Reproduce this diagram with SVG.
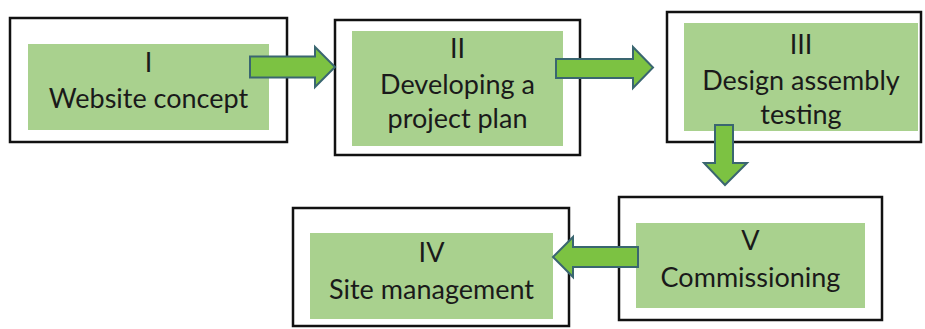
<svg xmlns="http://www.w3.org/2000/svg" width="925" height="329" viewBox="0 0 925 329">
<style>
.outer{fill:#ffffff;stroke:#111111;stroke-width:2.5}
.inner{fill:#a9d18e}
.t{font-family:Lato,"Liberation Sans",sans-serif;font-size:27px;fill:#1a1a1a;text-anchor:middle}
.arr{fill:#7cc242;stroke:#3a6670;stroke-width:2;stroke-linejoin:miter}
</style>
<rect width="925" height="329" fill="#ffffff"/>
<g id="node1">
<rect class="outer" x="10" y="18" width="277" height="124"/>
<rect class="inner" x="28" y="44" width="241" height="86"/>
<text class="t" x="148.5" y="72">I</text>
<text class="t" x="148.5" y="108">Website concept</text>
</g>
<g id="node2">
<rect class="outer" x="335" y="20" width="245" height="135"/>
<rect class="inner" x="352" y="31" width="211" height="115"/>
<text class="t" x="457.5" y="58">II</text>
<text class="t" x="457.5" y="94">Developing a</text>
<text class="t" x="457.5" y="128">project plan</text>
</g>
<g id="node3">
<rect class="outer" x="667" y="12" width="254" height="130"/>
<rect class="inner" x="684" y="23" width="234" height="108"/>
<text class="t" x="801" y="54">III</text>
<text class="t" x="801" y="90">Design assembly</text>
<text class="t" x="801" y="124">testing</text>
</g>
<g id="node4">
<rect class="outer" x="293" y="208" width="276" height="118"/>
<rect class="inner" x="310" y="233" width="243" height="86"/>
<text class="t" x="431.5" y="262">IV</text>
<text class="t" x="431.5" y="299">Site management</text>
</g>
<g id="node5">
<rect class="outer" x="619" y="197" width="263" height="123"/>
<rect class="inner" x="636" y="223" width="229" height="85"/>
<text class="t" x="750.5" y="250">V</text>
<text class="t" x="750.5" y="287">Commissioning</text>
</g>
<g id="connectors">
<polygon class="arr" points="250,56.5 315,56.5 315,47 335,67 315,87 315,77.5 250,77.5"/>
<polygon class="arr" points="556,59 633,59 633,47 653,67.5 633,88 633,78 556,78"/>
<polygon class="arr" points="715,125 733,125 733,163 747,163 725,185 704,163 715,163"/>
<polygon class="arr" points="638,247 573,247 573,237 553,257 573,277 573,267 638,267"/>
</g>
</svg>
